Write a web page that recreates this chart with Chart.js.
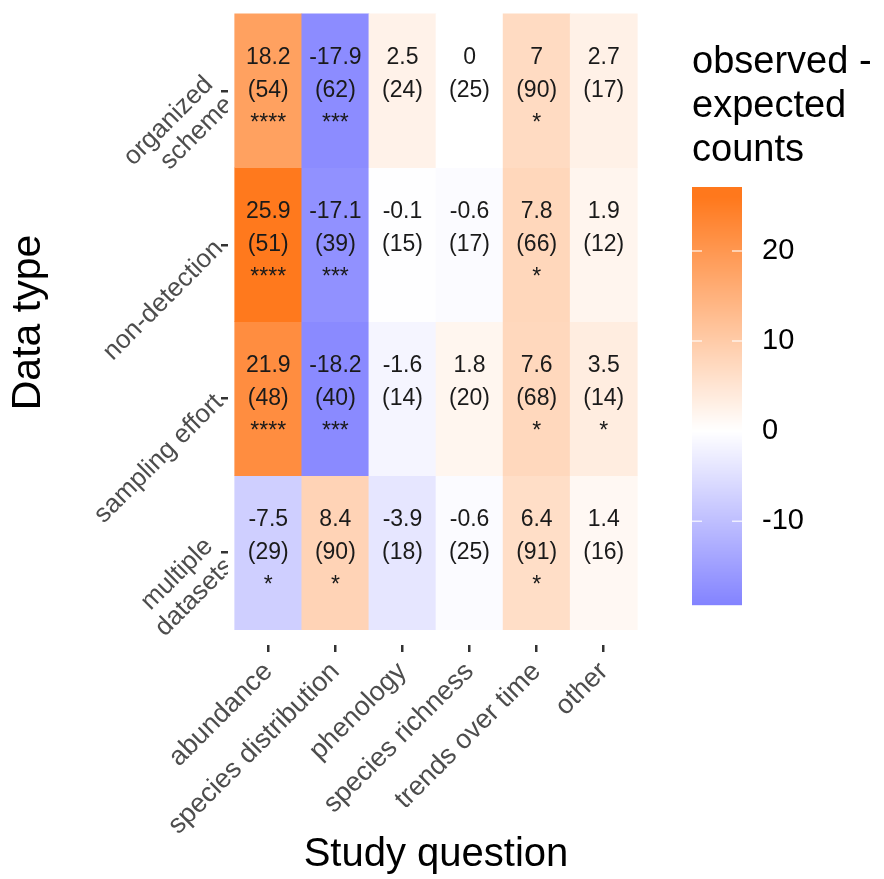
<!DOCTYPE html>
<html>
<head>
<meta charset="utf-8">
<script src="https://cdn.jsdelivr.net/npm/chart.js@4"></script>
<style>
  body { margin: 0; background: #fff; }
  #wrap { width: 884px; height: 879px; }
</style>
</head>
<body>
<div id="wrap"><canvas id="heat" width="884" height="879"></canvas></div>
<script>
// Data ------------------------------------------------------------
const colLabels = ['abundance', 'species distribution', 'phenology', 'species richness', 'trends over time', 'other'];
// rows from top to bottom
const rowLabels = [['organized', 'scheme'], 'non-detection', 'sampling effort', ['multiple', 'datasets']];

const diffs = [
    [18.2, -17.9, 2.5, 0, 7, 2.7],
    [25.9, -17.1, -0.1, -0.6, 7.8, 1.9],
    [21.9, -18.2, -1.6, 1.8, 7.6, 3.5],
    [-7.5, 8.4, -3.9, -0.6, 6.4, 1.4]
];
const counts = [
    [54, 62, 24, 25, 90, 17],
    [51, 39, 15, 17, 66, 12],
    [48, 40, 14, 20, 68, 14],
    [29, 90, 18, 25, 91, 16]
];
const stars = [
    ['****', '***', '', '', '*', ''],
    ['****', '***', '', '', '*', ''],
    ['****', '***', '', '', '*', '*'],
    ['*', '*', '', '', '*', '']
];
const legendTicks = [20, 10, 0, -10];
const legendLimits = [-19.3, 27.1];

const FONT = "'Liberation Sans', Arial, Helvetica, sans-serif";

// colour scale: blue - white - orange
const hiCol = [255, 120, 28];
const loCol = [88, 88, 255];
const fillFor = (v) => {
    const t = Math.min(1, Math.abs(v) / 26);
    const c = v >= 0 ? hiCol : loCol;
    const ch = c.map(k => Math.round(255 + (k - 255) * t));
    return `rgb(${ch[0]},${ch[1]},${ch[2]})`;
};

const nRows = rowLabels.length;

// Cell labels -----------------------------------------------------
const cellText = {
    id: 'cellText',
    afterDatasetsDraw(chart) {
        const ctx = chart.ctx;
        ctx.save();
        ctx.font = `23px ${FONT}`;
        ctx.fillStyle = '#1a1a1a';
        ctx.textAlign = 'center';
        ctx.textBaseline = 'middle';
        chart.data.datasets.forEach((ds, ri) => {
            chart.getDatasetMeta(ri).data.forEach((bar, ci) => {
                const cx = bar.x;
                const cy = (bar.y + bar.base) / 2;
                ctx.fillText(String(diffs[ri][ci]), cx, cy - 33);
                ctx.fillText('(' + counts[ri][ci] + ')', cx, cy);
                if (stars[ri][ci]) ctx.fillText(stars[ri][ci], cx, cy + 33);
            });
        });
        ctx.restore();
    }
};

// Colour bar legend ----------------------------------------------
const colorBar = {
    id: 'colorBar',
    afterDraw(chart) {
        const ctx = chart.ctx;
        const x0 = chart.chartArea.right + 48;
        const w = 50;
        const top = 187, bottom = 605;
        const [vMin, vMax] = legendLimits;
        const yFor = v => bottom - (v - vMin) / (vMax - vMin) * (bottom - top);
        ctx.save();
        for (let y = top; y < bottom; y++) {
            const v = vMax - (y + 0.5 - top) / (bottom - top) * (vMax - vMin);
            ctx.fillStyle = fillFor(v);
            ctx.fillRect(x0, y, w, 1.2);
        }
        ctx.strokeStyle = 'rgba(255,255,255,0.75)';
        ctx.lineWidth = 1.5;
        ctx.font = `29px ${FONT}`;
        ctx.fillStyle = '#000';
        ctx.textAlign = 'left';
        ctx.textBaseline = 'middle';
        legendTicks.forEach(t => {
            const y = yFor(t);
            ctx.beginPath();
            ctx.moveTo(x0, y); ctx.lineTo(x0 + 10, y);
            ctx.moveTo(x0 + w - 10, y); ctx.lineTo(x0 + w, y);
            ctx.stroke();
            ctx.fillText(String(t), x0 + 70, y);
        });
        // title
        ctx.font = `38px ${FONT}`;
        ctx.textBaseline = 'alphabetic';
        ['observed -', 'expected', 'counts'].forEach((s, i) => {
            ctx.fillText(s, x0, 73 + i * 44);
        });
        ctx.restore();
    }
};

// Chart -----------------------------------------------------------
const datasets = rowLabels.map((r, ri) => {
    const yv = nRows - 1 - ri;
    return {
        label: Array.isArray(r) ? r.join(' ') : r,
        data: colLabels.map((c, ci) => ({ x: ci, y: [yv - 0.5, yv + 0.5] })),
        backgroundColor: diffs[ri].map(fillFor),
        borderWidth: 0,
        grouped: false,
        barPercentage: 1,
        categoryPercentage: 1
    };
});

const tickGrid = {
    display: true,
    drawOnChartArea: false,
    drawTicks: true,
    offset: false,
    tickLength: 7,
    color: '#333',
    lineWidth: 2.5
};

new Chart(document.getElementById('heat').getContext('2d'), {
    type: 'bar',
    data: { datasets },
    options: {
        responsive: false,
        animation: false,
        layout: { padding: { left: 0, top: 0, right: 240, bottom: 0 } },
        plugins: {
            legend: { display: false },
            tooltip: { enabled: false }
        },
        scales: {
            x: {
                type: 'linear',
                offset: false,
                min: -0.6,
                max: 5.6,
                grid: tickGrid,
                border: { display: false },
                afterBuildTicks: (s) => { s.ticks = colLabels.map((c, i) => ({ value: i })); },
                afterFit: (s) => { s.height = 234; s.paddingLeft = 0; s.paddingRight = 0; },
                ticks: {
                    autoSkip: false,
                    minRotation: 45,
                    maxRotation: 45,
                    padding: 4,
                    color: '#4d4d4d',
                    font: { family: FONT, size: 27 },
                    callback: (v) => colLabels[v]
                },
                title: {
                    display: true,
                    text: 'Study question',
                    color: '#000',
                    font: { family: FONT, size: 40 },
                    padding: { top: 0, bottom: 0 }
                }
            },
            y: {
                type: 'linear',
                offset: false,
                min: -0.6,
                max: 3.59,
                grid: tickGrid,
                border: { display: false },
                afterBuildTicks: (s) => { s.ticks = rowLabels.map((r, i) => ({ value: i })); },
                afterFit: (s) => { s.width = 228; s.paddingTop = 0; s.paddingBottom = 0; },
                ticks: {
                    autoSkip: false,
                    minRotation: 45,
                    maxRotation: 45,
                    padding: 2,
                    color: '#4d4d4d',
                    font: { family: FONT, size: 26, lineHeight: 1.1 },
                    callback: (v) => rowLabels[nRows - 1 - v]
                },
                title: {
                    display: true,
                    text: 'Data type',
                    color: '#000',
                    font: { family: FONT, size: 41 },
                    padding: { top: 4, bottom: 0 }
                }
            }
        }
    },
    plugins: [cellText, colorBar]
});
</script>
</body>
</html>
